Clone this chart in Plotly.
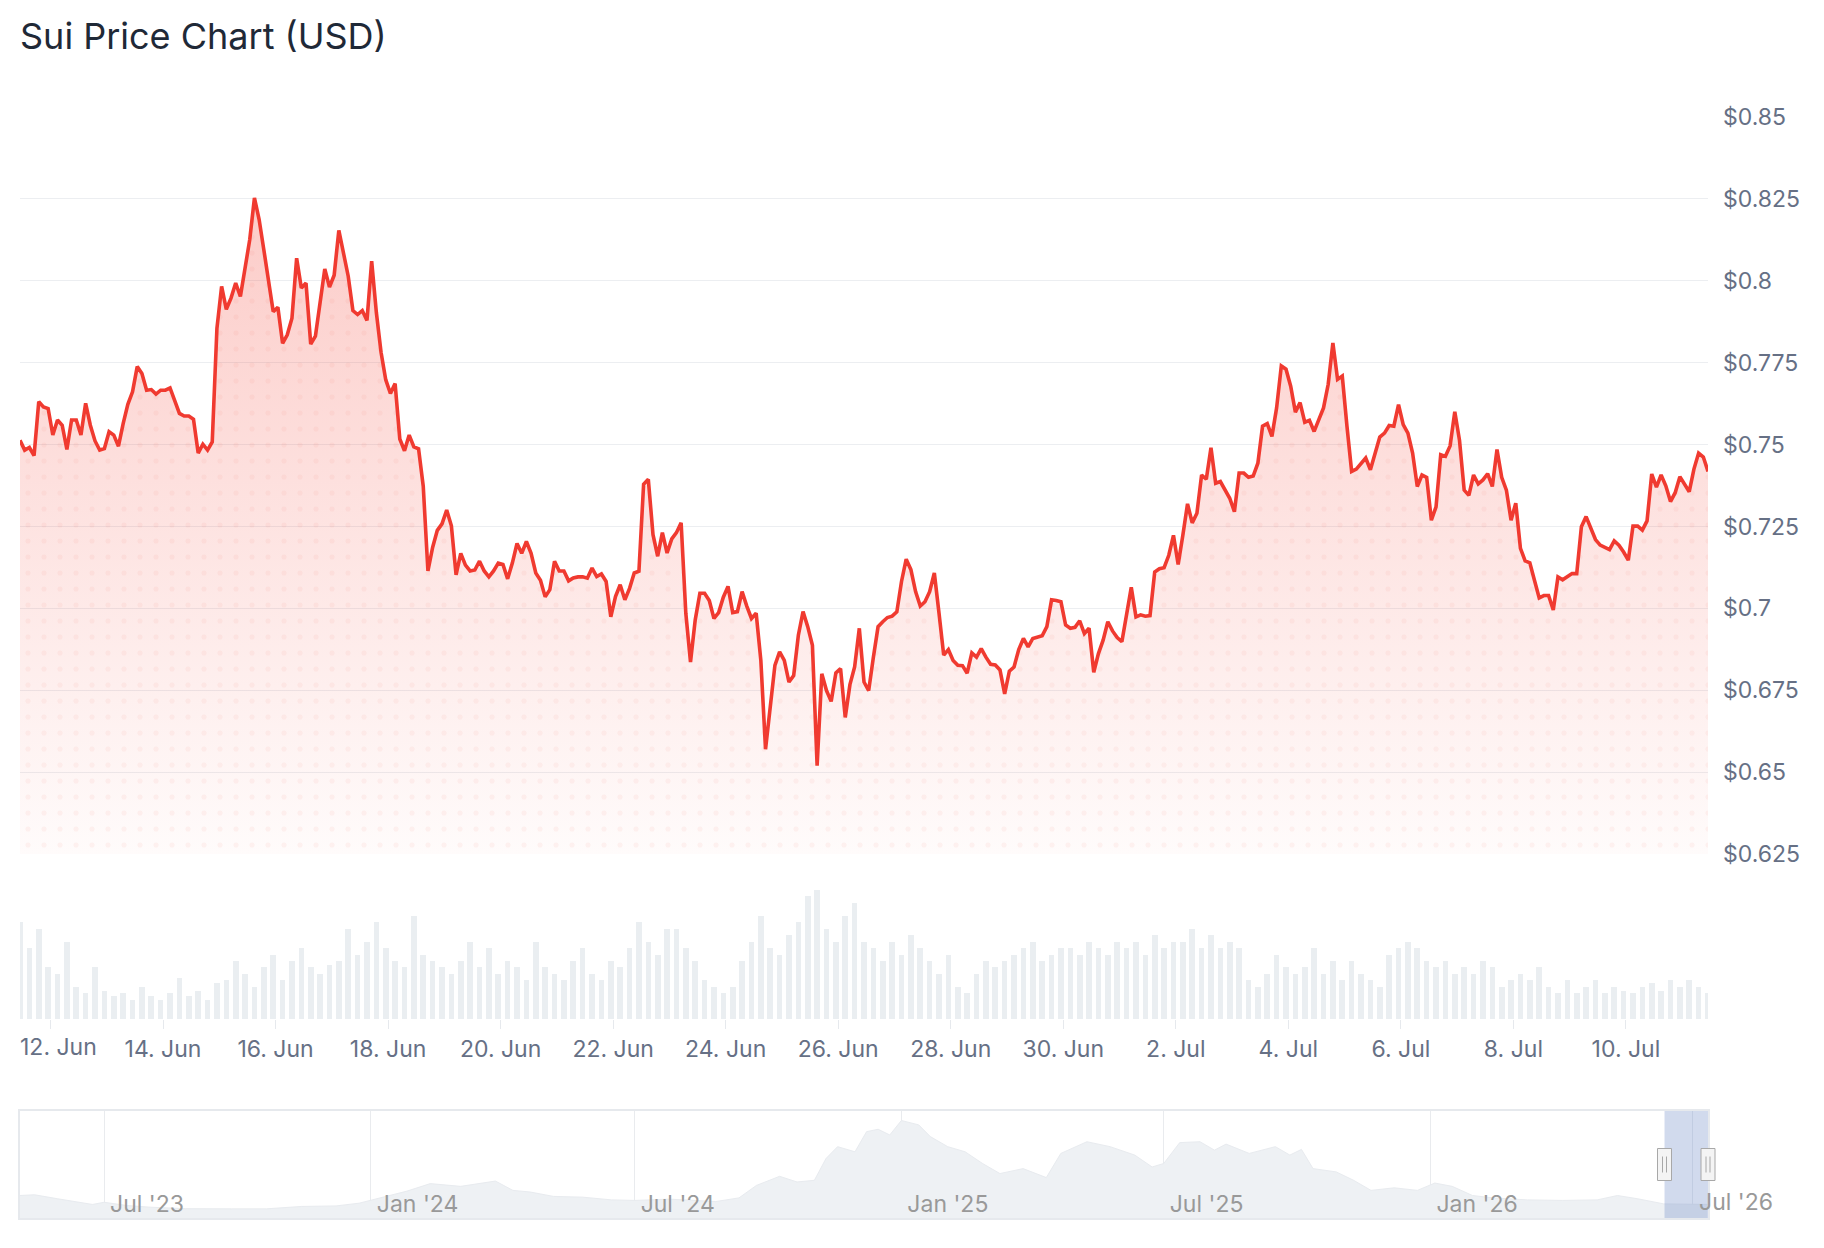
import pandas as pd
import plotly.graph_objects as go

# ---------------- data ----------------
price_start = "2026-06-11 11:00"
price_step = "2h"
prices = [
    0.7513, 0.7483, 0.7491, 0.7466, 0.7631, 0.7615, 0.7610,
    0.7529, 0.7575, 0.7559, 0.7485, 0.7575, 0.7575, 0.7529, 0.7626, 0.7559, 0.7511, 0.7483, 0.7488,
    0.7539, 0.7529, 0.7495, 0.7564, 0.7623, 0.7661, 0.7738, 0.7717, 0.7666, 0.7668, 0.7654, 0.7666,
    0.7666, 0.7673, 0.7636, 0.7595, 0.7587, 0.7587, 0.7577, 0.7474, 0.7501, 0.7483, 0.7508, 0.7855,
    0.7983, 0.7913, 0.7947, 0.7993, 0.7952, 0.8034, 0.8126, 0.8253, 0.8187, 0.8095, 0.8003, 0.7906,
    0.7919, 0.7809, 0.7835, 0.7886, 0.8069, 0.7978, 0.7993, 0.7807, 0.7831, 0.7937, 0.8036, 0.7981,
    0.8017, 0.8154, 0.8078, 0.8014, 0.7909, 0.7897, 0.7909, 0.7879, 0.8060, 0.7903, 0.7782, 0.7698,
    0.7656, 0.7686, 0.7517, 0.7481, 0.7529, 0.7493, 0.7487, 0.7373, 0.7114, 0.7186, 0.7238, 0.7258,
    0.7300, 0.7252, 0.7102, 0.7168, 0.7132, 0.7114, 0.7117, 0.7144, 0.7114, 0.7096, 0.7114, 0.7138,
    0.7134, 0.7090, 0.7138, 0.7198, 0.7168, 0.7204, 0.7168, 0.7108, 0.7086, 0.7035, 0.7057, 0.7144,
    0.7114, 0.7114, 0.7084, 0.7093, 0.7096, 0.7096, 0.7092, 0.7123, 0.7097, 0.7105, 0.7082, 0.6974,
    0.7036, 0.7072, 0.7026, 0.7061, 0.7108, 0.7113, 0.7379, 0.7394, 0.7225, 0.7159, 0.7231, 0.7169,
    0.7212, 0.7231, 0.7261, 0.6985, 0.6836, 0.6964, 0.7046, 0.7046, 0.7024, 0.6969, 0.6987, 0.7034,
    0.7067, 0.6987, 0.6990, 0.7051, 0.7007, 0.6969, 0.6985, 0.6841, 0.6570, 0.6708, 0.6826, 0.6867,
    0.6841, 0.6775, 0.6795, 0.6918, 0.6990, 0.6944, 0.6887, 0.6520, 0.6800, 0.6749, 0.6716, 0.6803,
    0.6816, 0.6667, 0.6767, 0.6821, 0.6939, 0.6775, 0.6749, 0.6851, 0.6944, 0.6959, 0.6972, 0.6976,
    0.6989, 0.7082, 0.7150, 0.7118, 0.7051, 0.7007, 0.7020, 0.7051, 0.7108, 0.6985, 0.6857, 0.6874,
    0.6841, 0.6826, 0.6825, 0.6802, 0.6864, 0.6851, 0.6877, 0.6851, 0.6829, 0.6827, 0.6812, 0.6739,
    0.6808, 0.6821, 0.6874, 0.6908, 0.6882, 0.6908, 0.6911, 0.6916, 0.6944, 0.7026, 0.7024, 0.7020,
    0.6949, 0.6939, 0.6942, 0.6962, 0.6923, 0.6939, 0.6805, 0.6862, 0.6903, 0.6959, 0.6931, 0.6911,
    0.6898, 0.6980, 0.7064, 0.6974, 0.6980, 0.6976, 0.6978, 0.7111, 0.7121, 0.7124, 0.7162, 0.7223,
    0.7134, 0.7223, 0.7319, 0.7261, 0.7290, 0.7407, 0.7394, 0.7490, 0.7382, 0.7387, 0.7359, 0.7336,
    0.7295, 0.7413, 0.7413, 0.7400, 0.7404, 0.7443, 0.7556, 0.7564, 0.7525, 0.7612, 0.7740, 0.7730,
    0.7678, 0.7599, 0.7628, 0.7568, 0.7574, 0.7540, 0.7576, 0.7612, 0.7684, 0.7810, 0.7699, 0.7709,
    0.7556, 0.7418, 0.7425, 0.7441, 0.7459, 0.7423, 0.7474, 0.7523, 0.7535, 0.7558, 0.7556, 0.7622,
    0.7561, 0.7535, 0.7474, 0.7372, 0.7407, 0.7400, 0.7269, 0.7310, 0.7469, 0.7464, 0.7496, 0.7600,
    0.7513, 0.7361, 0.7345, 0.7407, 0.7380, 0.7392, 0.7411, 0.7372, 0.7485, 0.7400, 0.7361, 0.7269,
    0.7321, 0.7183, 0.7145, 0.7139, 0.7085, 0.7032, 0.7039, 0.7039, 0.6995, 0.7096, 0.7087, 0.7096,
    0.7106, 0.7106, 0.7249, 0.7280, 0.7244, 0.7210, 0.7193, 0.7186, 0.7179, 0.7206, 0.7193, 0.7172,
    0.7147, 0.7251, 0.7251, 0.7239, 0.7267, 0.7410, 0.7370, 0.7407, 0.7374, 0.7326, 0.7353, 0.7402,
    0.7377, 0.7356, 0.7425, 0.7474, 0.7462, 0.7418,
]

volume_start = "2026-06-11 11:00"
volume_step = "4h"
volumes = [
    75, 55, 70, 40,
    35, 60, 25, 20, 40, 22,
    18, 20, 15, 25, 18, 15,
    20, 32, 18, 22, 15, 28,
    30, 45, 35, 25, 40, 50,
    30, 45, 55, 40, 35, 42,
    45, 70, 50, 60, 75, 55,
    45, 40, 80, 50, 45, 40,
    35, 45, 60, 40, 55, 35,
    45, 40, 30, 60, 40, 35,
    30, 45, 55, 35, 30, 45,
    40, 55, 75, 60, 50, 70,
    70, 55, 45, 30, 25, 20,
    25, 45, 60, 80, 55, 50,
    65, 75, 95, 100, 70, 60,
    80, 90, 60, 55, 45, 60,
    50, 65, 55, 45, 35, 50,
    25, 20, 35, 45, 40, 45,
    50, 55, 60, 45, 50, 55,
    55, 50, 60, 55, 50, 60,
    55, 60, 50, 65, 55, 60,
    60, 70, 55, 65, 55, 60,
    55, 30, 25, 35, 50, 40,
    35, 40, 55, 35, 45, 30,
    45, 35, 30, 25, 50, 55,
    60, 55, 45, 40, 45, 35,
    40, 35, 45, 40, 25, 30,
    35, 30, 40, 25, 20, 30,
    20, 25, 30, 20, 25, 22,
    20, 25, 28, 22, 30, 25,
    30, 25, 20,
]

nav_dates = [
    "2023-05-04", "2023-05-14", "2023-05-30", "2023-06-15", "2023-06-23", "2023-07-01",
    "2023-07-17", "2023-08-02", "2023-08-26", "2023-09-27", "2023-10-21", "2023-11-14",
    "2023-12-08", "2023-12-24", "2024-01-10", "2024-01-26", "2024-02-11", "2024-03-03",
    "2024-03-27", "2024-04-08", "2024-04-20", "2024-05-06", "2024-05-26", "2024-06-15",
    "2024-07-01", "2024-07-25", "2024-08-26", "2024-09-11", "2024-09-23", "2024-10-09",
    "2024-10-21", "2024-11-02", "2024-11-10", "2024-11-18", "2024-11-30", "2024-12-08",
    "2024-12-16", "2024-12-24", "2025-01-01", "2025-01-13", "2025-01-21", "2025-02-02",
    "2025-02-14", "2025-02-26", "2025-03-10", "2025-03-26", "2025-04-11", "2025-04-21",
    "2025-05-09", "2025-05-25", "2025-06-11", "2025-06-23", "2025-07-01", "2025-07-12",
    "2025-07-26", "2025-08-05", "2025-08-13", "2025-08-29", "2025-09-16", "2025-09-26",
    "2025-10-04", "2025-10-12", "2025-10-28", "2025-11-09", "2025-11-21", "2025-12-07",
    "2025-12-23", "2026-01-04", "2026-01-16", "2026-01-30", "2026-02-13", "2026-03-09",
    "2026-04-02", "2026-04-26", "2026-05-10", "2026-05-24", "2026-06-11", "2026-06-25",
    "2026-07-11",
]
nav_prices = [
    1.23, 1.27, 1.05, 0.86, 0.74, 0.86,
    0.68, 0.59, 0.51, 0.50, 0.50, 0.63,
    0.66, 0.81, 1.14, 1.47, 1.88, 1.73,
    2.02, 1.51, 1.42, 1.18, 1.14, 0.99,
    0.96, 1.03, 0.90, 1.10, 1.78, 2.28,
    1.97, 2.06, 3.25, 3.90, 3.62, 4.72,
    4.85, 4.54, 5.33, 5.09, 4.45, 3.90,
    3.62, 2.98, 2.43, 2.70, 2.21, 3.53,
    4.17, 3.90, 3.44, 2.79, 2.98, 4.12,
    4.17, 3.71, 4.04, 3.53, 3.90, 3.44,
    3.75, 2.70, 2.52, 2.06, 1.51, 1.65,
    1.51, 1.91, 1.73, 1.23, 1.10, 0.99,
    0.96, 0.99, 1.23, 1.05, 0.77, 0.77,
    0.74,
]

y_ticks = [0.625, 0.65, 0.675, 0.7, 0.725, 0.75, 0.775, 0.8, 0.825, 0.85]
y_tick_labels = ["$0.625", "$0.65", "$0.675", "$0.7", "$0.725", "$0.75", "$0.775", "$0.8", "$0.825", "$0.85"]
x_ticks = ["2026-06-12", "2026-06-14", "2026-06-16", "2026-06-18", "2026-06-20", "2026-06-22",
           "2026-06-24", "2026-06-26", "2026-06-28", "2026-06-30", "2026-07-02", "2026-07-04",
           "2026-07-06", "2026-07-08", "2026-07-10"]
x_tick_labels = ["12. Jun", "14. Jun", "16. Jun", "18. Jun", "20. Jun", "22. Jun", "24. Jun",
                 "26. Jun", "28. Jun", "30. Jun", "2. Jul", "4. Jul", "6. Jul", "8. Jul", "10. Jul"]
nav_ticks = ["2023-07-01", "2024-01-01", "2024-07-01", "2025-01-01", "2025-07-01", "2026-01-01", "2026-07-01"]
nav_tick_labels = ["Jul '23", "Jan '24", "Jul '24", "Jan '25", "Jul '25", "Jan '26", "Jul '26"]

# ---------------- figure ----------------
W, H = 1824, 1248
RED = "#f03a30"
FONT = "Inter"
AX_COL = "#667085"
NAV_COL = "#999999"


def py(p):
    return 1 - p / H


times = pd.date_range(price_start, periods=len(prices), freq=price_step)
vol_times = pd.date_range(volume_start, periods=len(volumes), freq=volume_step)
sel_start, sel_end = times[0], times[-1]
xdom = [20 / W, 1708 / W]
nav_range = [pd.Timestamp("2023-05-04"), pd.Timestamp(sel_end)]


def nav_paper(t):
    t = pd.Timestamp(t)
    frac = (t - nav_range[0]) / (nav_range[1] - nav_range[0])
    return xdom[0] + frac * (xdom[1] - xdom[0])


fig = go.Figure()

fig.add_trace(go.Scatter(
    x=times, y=prices, mode="lines", xaxis="x", yaxis="y",
    line=dict(color=RED, width=3.6),
    fill="tozeroy",
    fillgradient=dict(type="vertical", start=0.625, stop=0.83,
                      colorscale=[[0, "rgba(244,67,54,0.02)"], [1, "rgba(244,67,54,0.28)"]]),
    hoverinfo="skip", showlegend=False,
))
# faint dotted texture inside the area
fig.add_trace(go.Scatter(
    x=times, y=prices, mode="none", xaxis="x", yaxis="y",
    fill="tozeroy", fillcolor="rgba(0,0,0,0)",
    fillpattern=dict(shape=".", size=16, solidity=0.08, fgcolor="rgba(240,58,48,0.10)",
                     bgcolor="rgba(0,0,0,0)", fillmode="overlay"),
    hoverinfo="skip", showlegend=False,
))

fig.add_trace(go.Bar(
    x=vol_times, y=volumes, xaxis="x2", yaxis="y2",
    marker=dict(color="rgba(230,235,239,0.85)", line=dict(width=0)),
    width=2.4 * 3600 * 1000,
    hoverinfo="skip", showlegend=False,
))

fig.add_trace(go.Scatter(
    x=nav_dates, y=nav_prices, mode="lines", xaxis="x3", yaxis="y3",
    line=dict(color="#e8ebef", width=1), fill="tozeroy", fillcolor="#eef1f4",
    hoverinfo="skip", showlegend=False,
))

# first date label is pushed inside the plot (justified), like the original
x_tick_text = [""] + x_tick_labels[1:]

grid = "#eceef1"
fig.update_layout(
    width=W, height=H,
    margin=dict(l=0, r=0, t=0, b=0, autoexpand=False),
    paper_bgcolor="white", plot_bgcolor="white",
    font=dict(family=FONT, size=23, color=AX_COL),
    bargap=0,
    xaxis=dict(domain=xdom, anchor="y", type="date", range=[times[0], times[-1]], automargin=False,
               showticklabels=False, showgrid=False, zeroline=False, showline=False),
    yaxis=dict(domain=[py(854), py(117)], anchor="x", range=[0.625, 0.85], side="right", automargin=False,
               tickvals=y_ticks, ticktext=y_tick_labels, showgrid=True, gridcolor=grid,
               gridwidth=1, zeroline=False, showline=False, ticks="", ticklabelstandoff=14,
               tickfont=dict(family=FONT, size=23, color=AX_COL)),
    xaxis2=dict(domain=xdom, anchor="y2", type="date", matches="x", automargin=False,
                tickvals=x_ticks, ticktext=x_tick_text,
                showgrid=False, zeroline=False, showline=False,
                ticks="outside", ticklen=9, tickcolor="#e6e9ed", tickwidth=1,
                tickfont=dict(family=FONT, size=23, color=AX_COL)),
    yaxis2=dict(domain=[py(1019), py(890)], anchor="x2", range=[0, 100], visible=False),
    xaxis3=dict(domain=xdom, anchor="y3", type="date", automargin=False,
                range=nav_range,
                tickvals=nav_ticks, ticktext=nav_tick_labels, ticklabelposition="inside right",
                ticklabelshift=5,
                showgrid=True, gridcolor="#e9ebee", zeroline=False, ticks="",
                showline=True, mirror=True, linecolor="#e6e9ed", linewidth=2,
                tickfont=dict(family=FONT, size=23, color=NAV_COL)),
    yaxis3=dict(domain=[py(1218), py(1111)], anchor="x3", range=[0, 5.85], automargin=False,
                showticklabels=False, showgrid=False, zeroline=False, ticks="",
                showline=True, mirror=True, linecolor="#e6e9ed", linewidth=2),
)

shapes = [
    dict(type="rect", xref="paper", yref="y3 domain", x0=nav_paper(sel_start), x1=nav_paper(sel_end),
         y0=0, y1=1, fillcolor="rgba(102,133,194,0.3)", line=dict(width=0), layer="above"),
]
for edge in (sel_start, sel_end):
    xe = nav_paper(edge)
    shapes.append(dict(type="rect", xref="paper", yref="y3 domain", xsizemode="pixel", ysizemode="pixel",
                       xanchor=xe, yanchor=0.5, x0=-7, x1=7, y0=-16, y1=16,
                       fillcolor="#f4f4f4", line=dict(color="#a8a8a8", width=1), layer="above"))
    for dx in (-2, 2):
        shapes.append(dict(type="line", xref="paper", yref="y3 domain", xsizemode="pixel", ysizemode="pixel",
                           xanchor=xe, yanchor=0.5, x0=dx, x1=dx, y0=-8, y1=8,
                           line=dict(color="#a8a8a8", width=1), layer="above"))
fig.update_layout(shapes=shapes)

# justified first date label
fig.add_annotation(text=x_tick_labels[0], xref="paper", yref="paper",
                   x=xdom[0], xshift=-2, y=py(1047), xanchor="left", yanchor="middle",
                   showarrow=False, font=dict(family=FONT, size=23, color=AX_COL))

# last navigator label overflows the navigator, as in the original
fig.add_annotation(text=nav_tick_labels[-1], xref="paper", yref="y3 domain",
                   x=nav_paper(nav_ticks[-1]), xshift=4, y=0.15, xanchor="left", yanchor="middle",
                   showarrow=False, font=dict(family=FONT, size=23, color=NAV_COL))

fig.add_annotation(text="Sui Price Chart (USD)", xref="paper", yref="paper",
                   x=18 / W, y=py(36), xanchor="left", yanchor="middle", showarrow=False,
                   font=dict(family=FONT, size=36, color="#1f2937"))

fig.write_html("out.html")
